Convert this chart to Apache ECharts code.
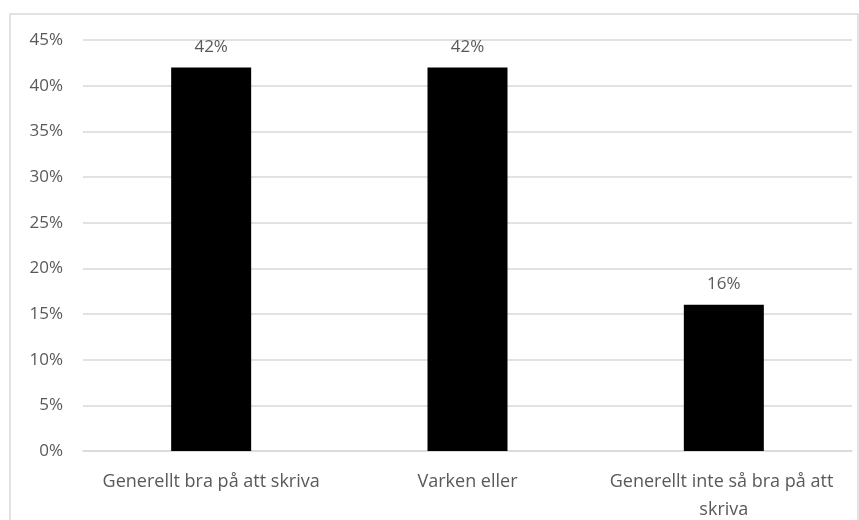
<!DOCTYPE html>
<html><head><meta charset="utf-8">
<script src="https://cdn.jsdelivr.net/npm/echarts@6/dist/echarts.min.js"></script>
<style>html,body{margin:0;padding:0;background:#fff}#c{width:859px;height:520px}</style>
</head><body><div id="c"></div>
<script>
const categories = ["Generellt bra på att skriva", "Varken eller", "Generellt inte så bra på att skriva"];
const values = [42, 42, 16];
const yTicks = [0, 5, 10, 15, 20, 25, 30, 35, 40, 45];

const chart = echarts.init(document.getElementById('c'), null, {renderer: 'canvas'});
const txt = '#595959';
const font = '"Open Sans", "Noto Sans", sans-serif';
chart.setOption({
  animation: false,
  backgroundColor: '#fff',
  graphic: [{
    type: 'rect', shape: {x: 10, y: 14, width: 848, height: 560},
    style: {fill: 'none', stroke: '#d9d9d9', lineWidth: 1.5}, silent: true
  }],
  grid: {left: 83, right: 7, top: 40, bottom: 69, containLabel: false, outerBoundsMode: 'none'},
  xAxis: {
    type: 'category', data: categories,
    axisLine: {show: true, lineStyle: {color: '#d9d9d9', width: 1.5}},
    axisTick: {show: false},
    axisLabel: {color: txt, fontFamily: font, fontSize: 18, margin: 17, width: 256, overflow: 'break', lineHeight: 28, interval: 0}
  },
  yAxis: {
    type: 'value', min: yTicks[0], max: yTicks[yTicks.length - 1], interval: 5,
    axisLine: {show: false}, axisTick: {show: false},
    splitLine: {lineStyle: {color: '#d9d9d9', width: 1.5}},
    axisLabel: {color: txt, fontFamily: font, fontSize: 17, margin: 20, formatter: v => v + '%'}
  },
  series: [{
    type: 'bar', data: values, barWidth: 80,
    itemStyle: {color: '#000'},
    label: {show: true, position: 'top', distance: 12, color: txt, fontFamily: font, fontSize: 17, formatter: p => p.value + '%'}
  }]
});
</script></body></html>
